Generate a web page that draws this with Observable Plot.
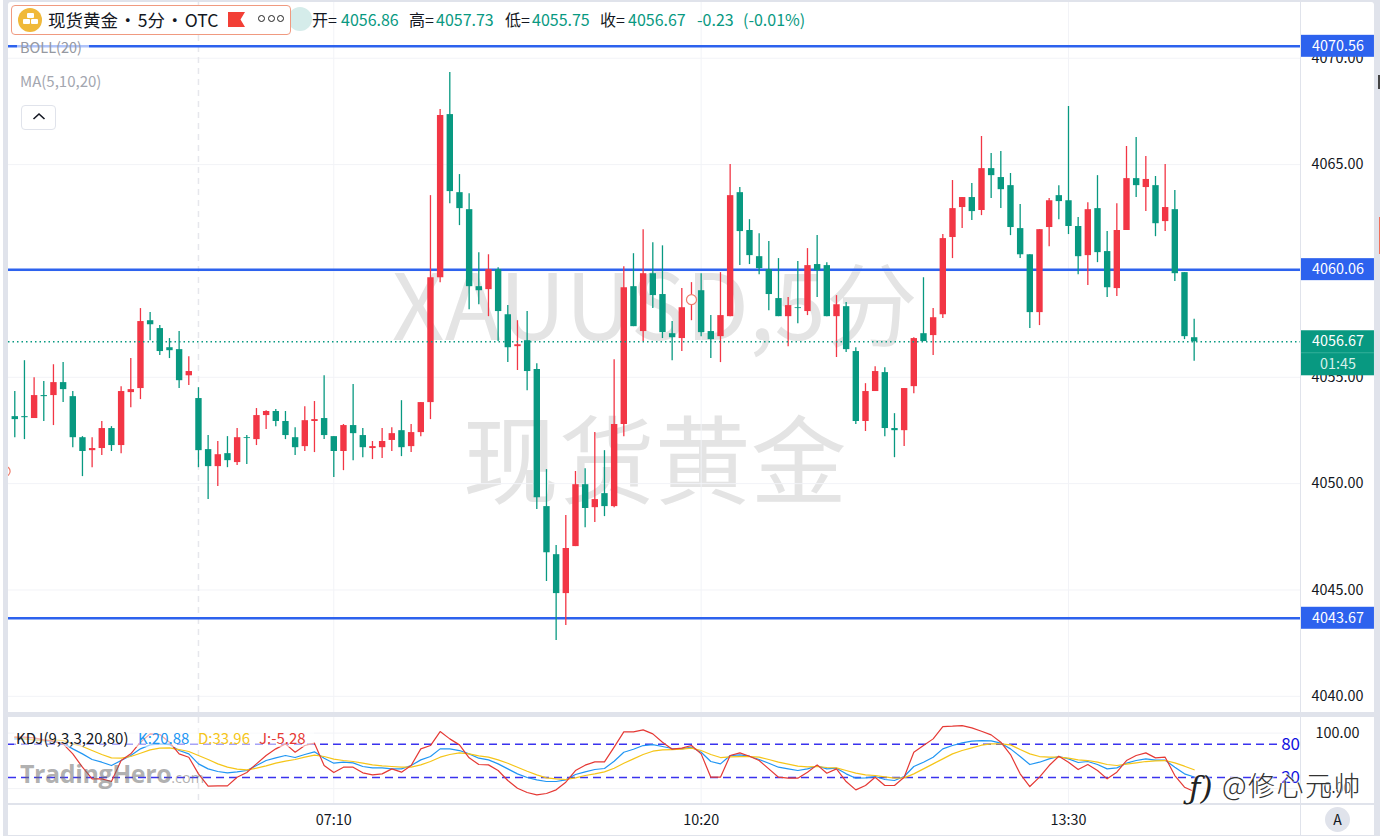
<!DOCTYPE html>
<html><head><meta charset="utf-8">
<script src="https://cdn.jsdelivr.net/npm/d3@7"></script>
<script src="https://cdn.jsdelivr.net/npm/@observablehq/plot@0.6"></script>
<style>
html,body{margin:0;padding:0;background:#e0e3eb;width:1380px;height:836px;overflow:hidden;font-family:"Noto Sans CJK SC","Noto Sans",sans-serif;color:#131722}
.abs{position:absolute;white-space:nowrap}
#main,#kdj{position:absolute;left:8px;width:1366px;background:#fff}
#main{top:2px;height:710px;border-top-left-radius:3px;border-top-right-radius:3px}
#kdj{top:717px;height:118px}
svg{display:block;background:transparent}
.g{color:#089981}
.hd{font-size:16px;line-height:20px;top:9px}
</style></head><body>
<div id="main"></div>
<div id="kdj"></div>

<div class="abs" style="left:0;top:0;width:3px;height:836px;background:#fff"></div>
<div class="abs" style="left:1300px;top:2px;width:1px;height:833px;background:#e0e3eb"></div>
<div class="abs" style="left:8px;top:803px;width:1366px;height:1.5px;background:#e0e3eb"></div>
<div class="abs" style="left:1378px;top:75px;width:2px;height:14px;background:#444"></div>
<div class="abs" style="left:1379px;top:217px;width:1px;height:37px;background:#f2705a"></div>

<!-- header -->
<div class="abs" style="left:288px;top:7px;width:24px;height:24px;border-radius:50%;background:#d5ecea"></div>
<div class="abs" style="left:11px;top:5px;width:278px;height:28px;background:#fff;border:1px solid #f09a80;border-radius:4px"></div>
<div class="abs" style="left:18px;top:8px;width:24px;height:24px;border-radius:50%;background:#f0b93a"></div>
<div class="abs" style="left:26.5px;top:13px;width:7px;height:4.5px;background:#fff;border-radius:1px"></div>
<div class="abs" style="left:22.5px;top:19px;width:7px;height:4.5px;background:#fff;border-radius:1px"></div>
<div class="abs" style="left:30.5px;top:19px;width:7px;height:4.5px;background:#fff;border-radius:1px"></div>
<div class="abs" style="left:48px;top:7px;font-size:17.5px;line-height:26px;word-spacing:-2.8px">现货黄金 • 5分 • OTC</div>
<svg class="abs" style="left:228px;top:12px" width="18" height="15"><path d="M0 0H17L12.5 7.5L17 15H0Z" fill="#f23f36"/></svg>
<div class="abs" style="left:258px;top:15px;display:flex;gap:2.5px">
  <i style="width:5px;height:5px;border:1.3px solid #222;border-radius:50%"></i><i style="width:5px;height:5px;border:1.3px solid #222;border-radius:50%"></i><i style="width:5px;height:5px;border:1.3px solid #222;border-radius:50%"></i>
</div>
<span class="abs hd" style="left:312px">开=</span><span class="abs hd g" style="left:341px">4056.86</span>
<span class="abs hd" style="left:409px">高=</span><span class="abs hd g" style="left:436px">4057.73</span>
<span class="abs hd" style="left:505px">低=</span><span class="abs hd g" style="left:532px">4055.75</span>
<span class="abs hd" style="left:600px">收=</span><span class="abs hd g" style="left:628px">4056.67</span>
<span class="abs hd g" style="left:697px">-0.23</span><span class="abs hd g" style="left:743px">(-0.01%)</span>

<div class="abs" style="left:17px;top:37px;font-size:14.5px;line-height:19px;color:#9598a1;background:rgba(255,255,255,.62);padding:0 3px;width:66px">BOLL(20)</div>
<div class="abs" style="left:20px;top:71px;font-size:15px;line-height:19px;color:#a3a6af">MA(5,10,20)</div>
<div class="abs" style="left:21px;top:105px;width:33px;height:23px;border:1px solid #e0e3eb;border-radius:4px;background:#fff"></div>
<svg class="abs" style="left:32px;top:112px" width="14" height="9"><path d="M1.5 7L7 2L12.5 7" fill="none" stroke="#131722" stroke-width="1.6"/></svg>

<!-- KDJ legend -->
<div class="abs" style="left:14px;top:728px;height:19px;width:300px;font-size:15px;line-height:19px;background:rgba(255,255,255,.55)">
 <span class="abs" style="left:2px">KDJ(9,3,3,20,80)</span>
 <span class="abs" style="left:124px;color:#2196f3">K:20.88</span>
 <span class="abs" style="left:184px;color:#f5c518">D:33.96</span>
 <span class="abs" style="left:245px;color:#e53935">J:-5.28</span>
</div>

<!-- watermarks -->
<div class="abs" style="left:20px;top:751px;font-size:25px;line-height:44px;font-weight:700;color:rgba(110,110,110,.55);font-family:'Open Sans','Noto Sans',sans-serif;letter-spacing:-.4px">TradingHero<span style="font-size:14.5px;font-weight:400;letter-spacing:0">.com</span></div>
<div class="abs" style="left:1189px;top:770px;font-size:31px;line-height:36px;color:#222;font-family:'DejaVu Serif',serif;font-style:italic;text-shadow:0 0 2px #fff,0 0 2px #fff">ƒ)</div>
<div class="abs" style="left:1222px;top:767px;font-size:27px;line-height:36px;font-weight:300;letter-spacing:1.5px;color:#333;text-shadow:0 0 2px #fff,0 0 2px #fff,0 0 3px #fff">@修心元帅</div>
<!-- auto button -->
<div class="abs" style="left:1325px;top:807px;width:25px;height:25px;border-radius:50%;background:#e0e3eb;text-align:center;font-size:14px;line-height:25px">A</div>

<script>
const opens=[4053.15,4053.15,4053.06,4054.14,4054.14,4054.75,4054.09,4052.16,4051.55,4051.65,4052.59,4051.79,4054.28,4054.47,4057.66,4057.29,4056.39,4056.30,4055.07,4054.00,4051.60,4050.80,4051.41,4050.99,4052.16,4052.07,4053.20,4053.39,4052.92,4052.16,4051.74,4052.92,4053.06,4052.21,4051.51,4052.73,4052.26,4051.65,4051.69,4052.03,4052.49,4051.74,4052.40,4053.81,4059.68,4067.35,4063.68,4062.88,4059.26,4059.12,4060.06,4057.94,4056.44,4056.72,4055.36,4048.92,4046.66,4044.83,4047.04,4049.95,4048.87,4049.53,4048.92,4052.78,4059.26,4057.15,4059.87,4058.89,4057.05,4056.82,4058.41,4059.07,4057.15,4056.91,4057.85,4063.68,4061.90,4060.67,4060.06,4058.70,4057.85,4058.27,4058.09,4060.30,4060.25,4057.85,4058.32,4056.21,4052.92,4054.33,4055.22,4052.59,4052.49,4054.56,4057.05,4056.96,4057.94,4061.57,4062.98,4063.45,4062.84,4064.81,4064.39,4064.01,4061.99,4060.76,4058.04,4062.04,4063.54,4063.30,4062.09,4060.72,4062.93,4060.91,4059.17,4061.90,4064.34,4063.92,4064.01,4062.32,4062.88,4059.92,4056.86];
const highs=[4054.33,4055.78,4054.98,4054.80,4055.59,4055.69,4054.33,4052.21,4052.16,4052.92,4052.68,4054.56,4055.88,4058.23,4058.04,4057.43,4056.82,4057.15,4055.97,4054.51,4052.26,4051.98,4052.21,4052.59,4052.26,4053.53,4053.43,4053.48,4053.39,4052.63,4053.62,4053.86,4055.07,4052.21,4052.78,4054.66,4052.59,4051.98,4052.59,4052.63,4053.90,4052.78,4053.81,4063.54,4067.59,4069.33,4064.53,4063.63,4060.86,4060.76,4060.15,4058.37,4057.66,4058.09,4055.64,4050.66,4047.09,4048.50,4050.57,4050.70,4052.40,4051.55,4055.83,4060.20,4060.81,4061.94,4061.33,4061.18,4057.62,4059.17,4059.45,4059.87,4057.90,4059.92,4065.00,4063.92,4062.41,4061.75,4061.38,4060.58,4058.75,4060.44,4061.05,4061.66,4060.39,4058.84,4058.51,4056.39,4054.70,4055.50,4055.45,4053.29,4054.47,4056.86,4059.68,4058.23,4061.71,4064.25,4063.45,4064.11,4066.32,4065.52,4065.61,4064.58,4063.12,4060.76,4061.94,4063.40,4064.01,4067.73,4062.51,4063.21,4064.48,4061.85,4063.16,4065.85,4066.27,4065.38,4064.44,4065.00,4063.78,4059.92,4057.73];
const lows=[4052.16,4052.07,4053.06,4052.92,4052.73,4053.81,4051.69,4050.33,4050.75,4051.32,4051.51,4051.41,4053.57,4053.95,4056.72,4056.02,4055.88,4054.47,4054.61,4050.75,4049.25,4049.86,4050.75,4050.85,4050.90,4051.79,4052.54,4052.68,4052.07,4051.32,4051.51,4051.46,4052.07,4050.29,4050.61,4051.08,4051.22,4051.13,4051.18,4051.51,4051.27,4051.46,4052.21,4053.01,4059.45,4063.16,4062.13,4058.18,4058.41,4057.85,4056.68,4055.69,4055.32,4054.37,4048.78,4045.40,4042.62,4043.33,4047.04,4047.93,4048.17,4048.45,4048.87,4052.21,4057.38,4056.68,4058.23,4056.82,4055.78,4056.21,4057.66,4056.91,4055.88,4055.69,4057.85,4060.25,4060.30,4059.82,4058.13,4057.85,4056.44,4057.52,4057.90,4058.75,4057.85,4055.93,4056.16,4052.78,4052.45,4054.33,4052.21,4051.22,4051.74,4054.23,4056.68,4056.02,4057.76,4060.58,4061.99,4062.37,4062.60,4063.40,4062.93,4061.66,4060.58,4057.29,4057.43,4061.14,4062.41,4061.71,4059.82,4059.31,4060.39,4058.75,4058.80,4061.90,4063.45,4062.79,4061.61,4061.85,4059.50,4056.77,4055.75];
const closes=[4053.01,4053.10,4054.14,4054.09,4054.75,4054.42,4052.16,4051.51,4051.65,4052.59,4051.79,4054.33,4054.42,4057.62,4057.47,4056.21,4056.25,4054.84,4055.27,4051.55,4050.80,4051.36,4051.08,4052.16,4052.12,4053.20,4053.39,4052.92,4052.26,4051.69,4052.96,4053.01,4052.26,4051.51,4052.73,4052.35,4051.69,4051.74,4051.98,4052.35,4051.69,4052.40,4053.81,4059.68,4067.31,4063.73,4062.93,4059.26,4059.07,4060.06,4058.09,4056.39,4056.53,4055.27,4049.34,4046.75,4044.83,4046.95,4049.95,4048.83,4049.25,4048.92,4052.78,4059.21,4057.38,4059.87,4058.84,4057.10,4056.86,4058.27,4058.84,4057.10,4056.77,4057.90,4063.54,4061.85,4060.72,4060.11,4058.89,4057.85,4058.37,4058.23,4060.25,4060.01,4057.85,4058.41,4056.30,4052.92,4054.33,4055.27,4052.59,4052.49,4054.47,4056.82,4056.68,4057.80,4061.52,4062.93,4063.45,4062.79,4064.81,4064.48,4063.82,4062.04,4060.76,4058.04,4061.94,4063.30,4063.26,4062.09,4060.67,4062.88,4060.86,4059.21,4061.90,4064.34,4064.01,4064.30,4062.22,4062.98,4059.87,4056.91,4056.67];

const kValues=[89.6,89.6,87.8,86.6,84.8,81.8,71.6,62.6,52.4,47.6,41.6,50.6,59.6,71.6,78.8,80.6,79.4,68.6,62.6,44.6,35.6,30.8,28.4,30.2,32.6,41.6,50.6,55.4,59.6,56,61.4,66.2,54.8,45.8,47.6,46.4,39.8,37.4,37.4,35.6,35.6,41.6,51.8,57.8,71.6,71.6,68.6,62.6,54.8,51.8,44.6,35.6,26.6,20,15.8,12.8,12.8,15.8,25.4,30.2,34.4,36.2,49.4,65.6,71,77.6,79.4,75.8,72.2,71.6,74.6,65.6,48.8,44.6,59.6,60.8,58.4,52.4,45.8,38.6,35.6,32.6,35.6,41,35.6,36.8,26.6,18.8,19.4,21.8,16.4,14.6,21.8,39.8,47.6,56.6,71.6,77.6,82.4,85.4,86.6,86,81.8,71.6,57.8,43.4,47.6,53.6,57.8,53.6,47,48.8,43.4,35.6,37.4,45.8,50.6,53.6,51.2,51.2,38.6,26.6,20.88];
const dValues=[92.6,89.6,87.8,86.6,87.8,86.6,80.6,75.8,68.6,61.4,55.4,54.8,57.8,63.8,69.8,72.8,73.4,70.4,66.8,59.6,52.4,44.6,38.6,35,33.8,36.8,41,45.8,49.4,52.4,56.6,60.2,57.8,53,50.6,48.8,45.8,42.8,41,39.8,38.6,38.6,42.8,48.8,56.6,61.4,64.4,62.6,59,56.6,51.8,45.8,38.6,31.4,24.8,19.4,17.6,16.4,19.4,23.6,26.6,30.2,36.8,45.8,53.6,61.4,67.4,69.8,70.4,71,72.8,68.6,61.4,56,57.2,57.8,57.8,56.6,52.4,47.6,44,40.4,39.2,39.8,38,37.4,32.6,27.8,24.8,23.6,21.2,18.8,19.4,26.6,35.6,44.6,53.6,62.6,68.6,73.4,78.2,80.6,80.6,78.8,70.4,62.6,57.8,56.6,56.6,54.8,51.8,50.6,47.6,43.4,41.6,44,46.4,48.8,50,50.6,46.4,40.4,33.96];
const jValues=[92.6,92.6,91.4,87.8,85.4,80.6,62.6,38.6,17.6,17.6,12.8,50.6,62.6,83.6,98.6,97.4,83.6,62.6,56.6,26.6,4.4,5,5,20.6,29,44.6,59.6,71.6,80.6,65.6,77.6,81.8,41.6,29,38.6,38.6,28.4,24.8,26.6,35.6,29.6,41.6,71.6,77.6,102.8,89.6,78.8,55.4,43.4,42.8,32.6,14.6,0.8,-7,-11.2,-8.8,-2.2,11.6,32.6,42.2,48.2,48.2,74.6,102.2,102.2,105.8,98.6,83.6,71,72.8,77.6,62.6,20.6,20.6,59.6,64.4,58.4,50.6,35.6,20.6,18.8,18.8,29.6,42.8,27.8,35.6,12.8,-2.2,5.6,20.6,5.6,5.6,20.6,65.6,77.6,89.6,111.8,112.4,113.6,109.4,103.4,96.8,83.6,61.4,26.6,3.8,20.6,41.6,58.4,47.6,34.4,43.4,32.6,17.6,29.6,50.6,59.6,64.4,55.4,56.6,23.6,2.6,-5.28];

const priceTicks=[4040,4045,4050,4055,4060,4065,4070];
const bollLevels=[4070.56,4060.06,4043.67];
const lastPrice=4056.67;
const countdown="01:45";
const timeTicks=[33,71,109];
const timeLabels=["07:10","10:20","13:30"];
const kdjTicks=[0,100];
const kdjBands=[80,20];
const crosshairBar=19;
const markerPoints=[{i:70,p:4058.65},{i:-1,p:4050.58}];

const FONT='"Noto Sans CJK SC","Noto Sans",sans-serif';
const RED="#f23645",GREEN="#089981",BLUE="#2d62ee",GRID="#f2f3f7",CROSS="#e6e7ec";
const XDOM=[-0.65,133];
const TAG=[133.1,140.65];
const candles=opens.map((o,i)=>({i,o,h:highs[i],l:lows[i],c:closes[i],dir:closes[i]>=o?"up":"down"}));

const main=Plot.plot({
  width:1366,height:710,marginLeft:0,marginRight:74,marginTop:0,marginBottom:0,
  style:{fontFamily:FONT,fontSize:"14px",color:"#131722",background:"transparent"},
  x:{domain:XDOM,axis:null},
  y:{domain:[4039.24,4072.62],axis:null},
  color:{domain:["up","down"],range:[RED,GREEN]},
  marks:[
    Plot.text(["XAUUSD,5分"],{x:66.2,y:4058.15,text:d=>d,fontSize:92,fill:"#e4e4e4",fontWeight:400,textAnchor:"middle"}),
    Plot.text(["现货黄金"],{x:66.2,y:4050.85,text:d=>d,fontSize:96,fill:"#e4e4e4",fontWeight:400,textAnchor:"middle"}),
    Plot.ruleY(priceTicks,{x1:XDOM[0],x2:XDOM[1],stroke:GRID,strokeWidth:1}),
    Plot.ruleX(timeTicks,{stroke:GRID,strokeWidth:1}),
    Plot.ruleX([crosshairBar],{stroke:CROSS,strokeWidth:1.5,strokeDasharray:"6,5"}),
    Plot.ruleY(bollLevels,{x1:XDOM[0],x2:XDOM[1],stroke:BLUE,strokeWidth:2.5}),
    Plot.axisY({anchor:"right",ticks:priceTicks,tickSize:0,tickPadding:37,textAnchor:"middle",tickFormat:d=>d.toFixed(2),fill:"#131722",fontSize:14.4}),
    Plot.ruleX(candles,{x:"i",y1:"l",y2:"h",stroke:"dir",strokeWidth:1.3}),
    Plot.ruleX(candles,{x:"i",y1:"o",y2:"c",stroke:"dir",strokeWidth:6.4}),
    Plot.ruleY([lastPrice],{x1:XDOM[0],x2:XDOM[1],stroke:GREEN,strokeWidth:1.5,strokeDasharray:"1.5,3"}),
    Plot.dot(markerPoints,{x:"i",y:"p",r:5,fill:"#fff",stroke:"#ee7d6c",strokeWidth:1.2}),
    Plot.rect(bollLevels,{x1:TAG[0],x2:TAG[1],y1:d=>d-0.517,y2:d=>d+0.517,fill:BLUE}),
    Plot.text(bollLevels,{x:(TAG[0]+TAG[1])/2,y:d=>d,text:d=>d.toFixed(2),fill:"#fff",fontSize:14.4}),
    Plot.rect([lastPrice],{x1:TAG[0],x2:TAG[1],y1:d=>d+0.517,y2:d=>d-1.6,fill:GREEN}),
    Plot.ruleY([lastPrice-0.517],{x1:TAG[0],x2:TAG[1],stroke:"#3fb5a0",strokeWidth:0.8}),
    Plot.text([lastPrice],{x:(TAG[0]+TAG[1])/2,y:d=>d,text:d=>d.toFixed(2),fill:"#fff",fontSize:14.4}),
    Plot.text([countdown],{x:(TAG[0]+TAG[1])/2,y:lastPrice-1.06,text:d=>d,fill:"#d6f0ea",fontSize:14.4})
  ]
});
document.getElementById("main").append(main);

const series=[["K",kValues,"#2196f3"],["D",dValues,"#f5c518"],["J",jValues,"#e53935"]];
const kdj=Plot.plot({
  width:1366,height:118,marginLeft:0,marginRight:74,marginTop:0,marginBottom:32,
  style:{fontFamily:FONT,fontSize:"14px",color:"#131722",background:"transparent"},
  x:{domain:XDOM,axis:null},
  y:{domain:[-26.8,128.1],axis:null},
  marks:[
    Plot.ruleY(kdjTicks,{x1:XDOM[0],x2:XDOM[1],stroke:GRID,strokeWidth:1}),
    Plot.ruleX(timeTicks,{stroke:GRID,strokeWidth:1}),
    Plot.ruleX([crosshairBar],{stroke:CROSS,strokeWidth:1.5,strokeDasharray:"6,5"}),
    Plot.axisY({anchor:"right",ticks:kdjTicks,tickSize:0,tickPadding:37,textAnchor:"middle",tickFormat:d=>d.toFixed(2),fill:"#131722",fontSize:14.4}),
    Plot.axisX({anchor:"bottom",ticks:timeTicks,tickSize:0,tickPadding:11,tickFormat:d=>timeLabels[timeTicks.indexOf(d)],fill:"#131722",fontSize:14.4}),
    Plot.ruleY([80],{x1:XDOM[0],x2:130.9,stroke:"#3a33ee",strokeWidth:1.5,strokeDasharray:"8,5"}),
    Plot.ruleY([20],{x1:XDOM[0],x2:130.9,stroke:"#3a33ee",strokeWidth:1.5,strokeDasharray:"8,5"}),
    ...series.map(([n,vals,col])=>Plot.lineY(vals,{x:(d,i)=>i,y:d=>d,stroke:col,strokeWidth:1.2})),
    Plot.text(kdjBands,{x:131,y:d=>d,text:d=>String(d),fill:"#1010e0",fontSize:17,textAnchor:"start"})
  ]
});
document.getElementById("kdj").append(kdj);
</script>
</body></html>
